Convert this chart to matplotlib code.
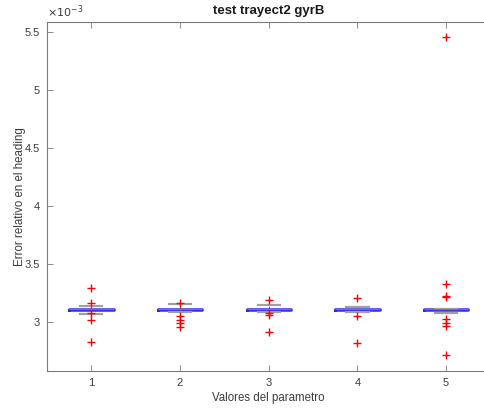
import numpy as np
import matplotlib.pyplot as plt
from matplotlib import ticker

plt.rcParams['font.family'] = ['Liberation Sans', 'DejaVu Sans']

# box statistics (values in units of 1e-3)
positions = [1, 2, 3, 4, 5]
q1 = [3.101, 3.101, 3.103, 3.103, 3.101]
med = [3.106, 3.106, 3.108, 3.108, 3.106]
q3 = [3.112, 3.112, 3.114, 3.114, 3.112]
whis_lo = [3.069, 3.081, 3.081, 3.081, 3.072]
whis_hi = [3.138, 3.150, 3.144, 3.129, 3.112]
outliers = [
    [3.288, 3.159, 3.072, 3.015, 2.822],
    [3.159, 3.049, 3.015, 2.986, 2.957],
    [3.187, 3.072, 3.058, 2.914],
    [3.202, 3.049, 2.814],
    [5.452, 3.325, 3.222, 3.210, 3.020, 2.991, 2.963, 2.713],
]

stats = []
for i in range(len(positions)):
    stats.append({
        'q1': q1[i] * 1e-3, 'med': med[i] * 1e-3, 'q3': q3[i] * 1e-3,
        'whislo': whis_lo[i] * 1e-3, 'whishi': whis_hi[i] * 1e-3,
        'fliers': np.array(outliers[i]) * 1e-3,
    })

fig = plt.figure(figsize=(4.84, 4.08), dpi=100)
ax = fig.add_axes([47 / 484, 37 / 408, 443.5 / 484, 349 / 408])

ax.bxp(stats, positions=positions, widths=0.5, showfliers=True,
       boxprops=dict(color='#2b2bf0', linewidth=1.8),
       medianprops=dict(color='#ff4060', linewidth=0.8),
       whiskerprops=dict(color='#555555', linewidth=0.6, linestyle='--'),
       capprops=dict(color='#a0a0a0', linewidth=1.6),
       flierprops=dict(marker='+', markeredgecolor='red', markersize=5.5,
                       markeredgewidth=1.0, linestyle='none'),
       capwidths=0.25)

ax.set_xlim(0.5, 5.5)
ax.set_ylim(2.575e-3, 5.585e-3)
ax.set_xticks(positions)
ax.set_xticklabels([str(p) for p in positions])
ax.set_yticks([3e-3, 3.5e-3, 4e-3, 4.5e-3, 5e-3, 5.5e-3])
ax.yaxis.set_major_formatter(ticker.FuncFormatter(lambda v, p: '%g' % round(v * 1e3, 3)))

for s in ax.spines.values():
    s.set_color('#7a7a7a')
    s.set_linewidth(0.8)
ax.tick_params(direction='in', top=True, right=True, length=4, width=0.6,
               colors='#7a7a7a', labelcolor='#3a3a3a', labelsize=8, pad=5)

ax.text(0.0, 1.006, r'$\times10^{-3}$', transform=ax.transAxes, ha='left',
        va='bottom', fontsize=8, color='#3a3a3a')
ax.set_title('test trayect2 gyrB', fontsize=9.5, fontweight='bold', pad=6, color='#1a1a1a')
ax.set_xlabel('Valores del parametro', fontsize=8.3, color='#3a3a3a', labelpad=3)
ax.set_ylabel('Error relativo en el heading', fontsize=8.3, color='#3a3a3a', labelpad=-1)

plt.savefig('out.png', dpi=100)
